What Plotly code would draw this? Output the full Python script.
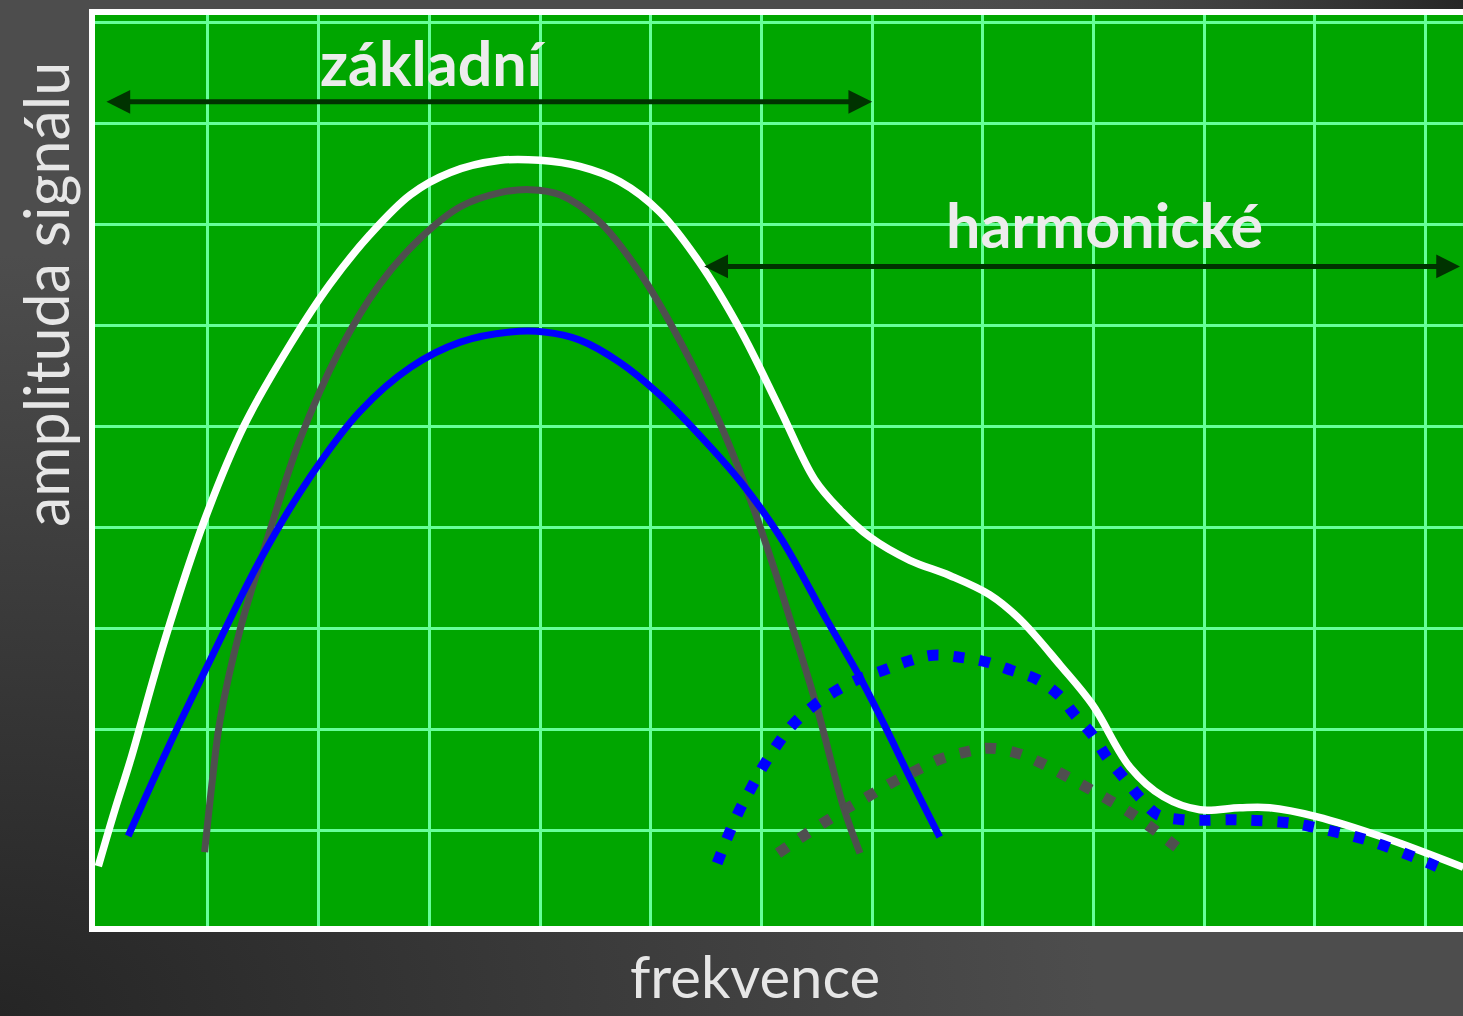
import base64
import plotly.graph_objects as go

# curve samples (x: grid units, y: grid units)
white_x = [0.01, 0.16, 0.30, 0.61, 0.97, 1.33, 1.74, 2.10, 2.46, 2.83, 3.19, 3.64, 4.00, 4.36, 4.72,
           5.08, 5.44, 5.81, 6.17, 6.48, 6.71, 6.98, 7.34, 7.70, 8.06, 8.34, 8.70, 8.99, 9.33, 9.63,
           9.96, 10.32, 10.59, 11.02, 11.61, 12.34]
white_y = [0.65, 1.21, 1.70, 2.89, 4.08, 5.02, 5.81, 6.41, 6.90, 7.30, 7.52, 7.64, 7.64, 7.58, 7.43,
           7.13, 6.63, 5.96, 5.17, 4.48, 4.18, 3.91, 3.68, 3.53, 3.34, 3.09, 2.64, 2.25, 1.63, 1.34,
           1.21, 1.23, 1.23, 1.14, 0.94, 0.64]

gray_x = [0.97, 1.04, 1.11, 1.29, 1.52, 1.83, 2.19, 2.55, 2.92, 3.28, 3.64, 3.91, 4.18, 4.54, 4.90,
          5.26, 5.62, 5.90, 6.12, 6.26, 6.50, 6.74, 6.89]
gray_y = [0.79, 1.50, 2.10, 2.99, 3.83, 4.87, 5.76, 6.41, 6.87, 7.18, 7.32, 7.35, 7.30, 7.03, 6.53,
          5.86, 5.05, 4.28, 3.58, 3.09, 2.23, 1.24, 0.78]

blue_x = [0.28, 0.63, 1.02, 1.47, 1.92, 2.37, 2.83, 3.28, 3.73, 4.04, 4.36, 4.72, 5.08, 5.44, 5.81,
          6.17, 6.59, 6.89, 7.11, 7.34, 7.61]
blue_y = [0.95, 1.80, 2.69, 3.68, 4.50, 5.15, 5.59, 5.84, 5.94, 5.94, 5.86, 5.64, 5.32, 4.92, 4.46,
          3.91, 3.09, 2.52, 2.05, 1.53, 0.94]

blue_dot_x = [5.60, 5.69, 5.79, 5.90, 6.01, 6.14, 6.28, 6.46, 6.66, 6.87, 7.10, 7.32, 7.55, 7.79,
              8.04, 8.26, 8.49, 8.68, 8.83, 8.99, 9.12, 9.27, 9.42, 9.58, 9.83, 10.30, 10.77, 11.02,
              11.47, 11.92, 12.18]
blue_dot_y = [0.68, 0.93, 1.18, 1.41, 1.63, 1.85, 2.05, 2.23, 2.38, 2.50, 2.59, 2.68, 2.74, 2.72,
              2.67, 2.59, 2.50, 2.35, 2.15, 1.95, 1.73, 1.53, 1.33, 1.16, 1.11, 1.11, 1.08, 1.03,
              0.91, 0.73, 0.61]

gray_dot_x = [6.15, 6.35, 6.56, 6.75, 6.96, 7.18, 7.40, 7.61, 7.84, 8.06, 8.31, 8.53, 8.74, 8.94,
              9.15, 9.36, 9.55, 9.75]
gray_dot_y = [0.78, 0.93, 1.08, 1.21, 1.34, 1.48, 1.60, 1.71, 1.78, 1.82, 1.77, 1.67, 1.55, 1.43,
              1.30, 1.16, 1.01, 0.84]

# range arrows and labels
arrow_zakladni = [0.07, 7.00, 8.22]
arrow_harm = [5.47, 12.31, 6.59]
label_zakladni = [3.03, 8.61]
label_harm = [9.10, 7.00]

W, H = 1463, 1016
L, R, T, B = 95, 0, 15, 90
pw, ph = W - L - R, H - T - B

svg = (
    f'<svg xmlns="http://www.w3.org/2000/svg" width="{W}" height="{H}">'
    '<defs>'
    '<radialGradient id="a" cx="0" cy="1" r="0.75">'
    '<stop offset="0" stop-color="#252525"/><stop offset="1" stop-color="#4d4d4d"/></radialGradient>'
    '<radialGradient id="b" cx="1" cy="0" r="0.4">'
    '<stop offset="0" stop-color="#262626" stop-opacity="1"/>'
    '<stop offset="1" stop-color="#4d4d4d" stop-opacity="0"/></radialGradient>'
    '</defs>'
    f'<rect width="{W}" height="{H}" fill="url(#a)"/>'
    f'<rect width="{W}" height="{H}" fill="url(#b)"/>'
    '</svg>'
)
bg_src = "data:image/svg+xml;base64," + base64.b64encode(svg.encode()).decode()

fig = go.Figure()

def curve(x, y, color, width, dash="solid"):
    fig.add_trace(go.Scatter(
        x=x, y=y, mode="lines",
        line=dict(color=color, width=width, dash=dash, shape="spline", smoothing=1.0),
        hoverinfo="skip", showlegend=False,
    ))

curve(white_x, white_y, "#ffffff", 7.5)
curve(gray_x, gray_y, "#4f4f4f", 7)
curve(blue_x, blue_y, "#0000ff", 7)
curve(blue_dot_x, blue_dot_y, "#0000ff", 11, dash="11px,15px")
curve(gray_dot_x, gray_dot_y, "#4f4f4f", 11, dash="11px,15px")

for x0, x1, y in [arrow_zakladni, arrow_harm]:
    fig.add_annotation(
        x=x1, y=y, ax=x0, ay=y, xref="x", yref="y", axref="x", ayref="y",
        text="", showarrow=True, arrowhead=2, startarrowhead=2, arrowside="end+start",
        arrowsize=0.95, startarrowsize=0.95, arrowwidth=5, arrowcolor="#003300",
    )

lab_font = dict(family="Lato, 'Open Sans', sans-serif", size=61, color="#ececec")
fig.add_annotation(x=label_zakladni[0], y=label_zakladni[1], xref="x", yref="y",
                   text="<b>základní</b>", showarrow=False, font=lab_font)
fig.add_annotation(x=label_harm[0], y=label_harm[1], xref="x", yref="y",
                   text="<b>harmonické</b>", showarrow=False, font=lab_font)

fig.add_annotation(x=(45 - L) / pw, y=1 - (295 - T) / ph, xref="paper", yref="paper",
                   xanchor="center", yanchor="middle",
                   text="amplituda signálu", textangle=-90, showarrow=False,
                   font=dict(family="Lato, 'Open Sans', sans-serif", size=61, color="#e6e6e6"))
fig.add_annotation(x=(755 - L) / pw, y=-(975 - T - ph) / ph, xref="paper", yref="paper",
                   xanchor="center", yanchor="middle",
                   text="frekvence", showarrow=False,
                   font=dict(family="Lato, 'Open Sans', sans-serif", size=58, color="#e6e6e6"))

fig.add_layout_image(
    source=bg_src, xref="paper", yref="paper",
    x=-L / pw, y=1 + T / ph, sizex=W / pw, sizey=H / ph,
    sizing="stretch", layer="below", xanchor="left", yanchor="top",
)
# green plot area drawn on top of the background picture
fig.add_shape(type="rect", xref="paper", yref="paper", x0=0, x1=1, y0=0, y1=1,
              fillcolor="#00a600", line_width=0, layer="below")

grid = dict(showgrid=True, gridcolor="#66ff99", gridwidth=3, zeroline=False,
            showticklabels=False, ticks="")
fig.update_xaxes(range=[-0.02, 12.337], tickmode="array", tickvals=list(range(1, 13)),
                 showline=True, linecolor="#ffffff", linewidth=6, mirror=True, **grid)
fig.update_yaxes(range=[0.059, 9.079], tickmode="array", tickvals=list(range(1, 10)),
                 showline=True, linecolor="#ffffff", linewidth=6, **grid)

fig.update_layout(
    width=W, height=H,
    margin=dict(l=L, r=R, t=T, b=B, pad=0),
    paper_bgcolor="#404040",
    plot_bgcolor="#00a600",
    showlegend=False,
)

fig.write_html("out.html", config={"displayModeBar": False},
               post_script="document.body.style.margin='0';")
